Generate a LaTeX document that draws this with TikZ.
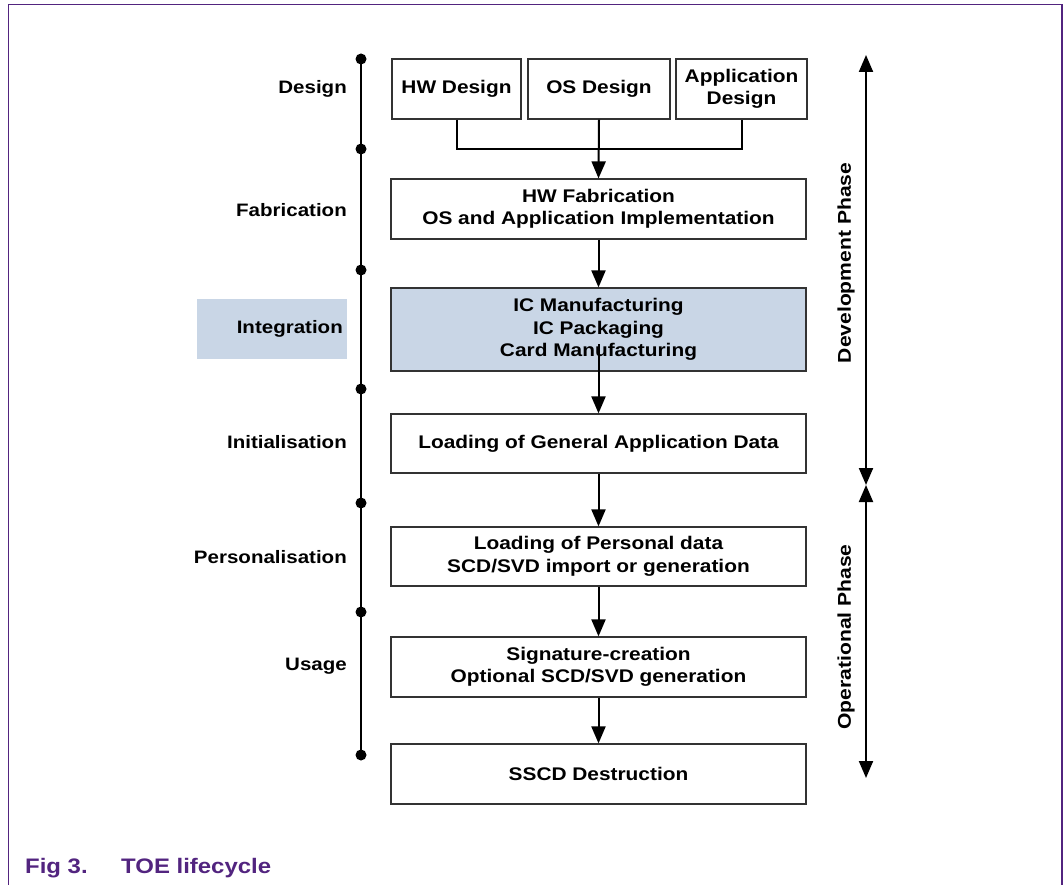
\documentclass[tikz,border=0pt]{standalone}
\usepackage{fontspec}
\setmainfont{Liberation Sans}[FakeStretch=1.14]
\usetikzlibrary{arrows.meta}
\definecolor{framec}{HTML}{52247F}
\definecolor{hl}{HTML}{C9D6E6}
\begin{document}
\begin{tikzpicture}[x=1pt,y=-1pt,
  box/.style={draw=black!80, line width=1.2pt, align=center, inner sep=0pt,
    font=\fontsize{18.3}{22.5}\selectfont\bfseries},
  lbl/.style={anchor=east, inner sep=0pt, font=\fontsize{18}{22}\selectfont\bfseries},
  phase/.style={rotate=90, inner sep=0pt, font=\fontsize{18.5}{22}\selectfont\bfseries},
  arr/.style={line width=2pt, -{Triangle[width=14pt,length=17pt]}},
  dbl/.style={line width=2pt, {Triangle[width=14pt,length=17pt]}-{Triangle[width=14pt,length=17pt]}},
  captext/.style={anchor=base west, inner sep=0pt, text=framec, font=\fontsize{21}{24}\selectfont\bfseries}]
\useasboundingbox (0,0) rectangle (1063,885);
% frame
\draw[framec, line width=1.5pt] (8.5,885) -- (8.5,4.5) -- (1062,4.5) -- (1062,885);
% timeline
\coordinate (d1) at (361,59);
\coordinate (d2) at (361,149);
\coordinate (d3) at (361,270);
\coordinate (d4) at (361,389);
\coordinate (d5) at (361,503);
\coordinate (d6) at (361,612);
\coordinate (d7) at (361,755);
\draw[line width=2.5pt] (d1) -- (d7);
\foreach \d in {d1,d2,d3,d4,d5,d6,d7} \fill (\d) circle (5.5pt);
% stage labels
\node[lbl] (lDesign) at (347,89) {Design};
\node[lbl] (lFab) at (347,210) {Fabrication};
\node[lbl, fill=hl, minimum width=150pt, minimum height=60pt, text width=142pt, align=right, inner xsep=4pt, inner ysep=0pt] (lInt) at (347,329) {Integration};
\node[lbl] (lInit) at (347,442) {Initialisation};
\node[lbl] (lPers) at (347,557) {Personalisation};
\node[lbl] (lUse) at (347,666) {Usage};
% boxes
\node[box, minimum width=129pt, minimum height=60pt] (hw) at (456.5,89) {HW Design};
\node[box, minimum width=142pt, minimum height=60pt] (os) at (599,89) {OS Design};
\node[box, minimum width=131pt, minimum height=60pt] (app) at (741.5,89) {Application\\Design};
\node[box, minimum width=415pt, minimum height=60pt] (fab) at (598.5,209) {HW Fabrication\\OS and Application Implementation};
\node[box, fill=hl, minimum width=415pt, minimum height=83pt] (int) at (598.5,329.5) {IC Manufacturing\\IC Packaging\\Card Manufacturing};
\node[box, minimum width=415pt, minimum height=59pt] (init) at (598.5,443.5) {Loading of General Application Data};
\node[box, minimum width=415pt, minimum height=59pt] (pers) at (598.5,556.5) {Loading of Personal data\\SCD/SVD import or generation};
\node[box, minimum width=415pt, minimum height=60pt] (use) at (598.5,667) {Signature-creation\\Optional SCD/SVD generation};
\node[box, minimum width=415pt, minimum height=60pt] (sscd) at (598.5,774) {SSCD Destruction};
% connectors
\draw[line width=2pt] (hw.south) -- ++(0,29) -| (app.south);
\draw[arr] (os.south) -- (fab.north);
\draw[arr] (fab.south) -- (int.north);
\draw[arr] ([yshift=-15pt]int.center) -- (init.north);
\draw[arr] (init.south) -- (pers.north);
\draw[arr] (pers.south) -- (use.north);
\draw[arr] (use.south) -- (sscd.north);
% phases
\coordinate (p1) at (866,55);
\coordinate (p2) at (866,485);
\coordinate (p3) at (866,778);
\draw[dbl] (p2) -- (p1);
\draw[dbl] (p3) -- (p2);
\node[phase] (dev) at (846,263) {Development Phase};
\node[phase] (op) at (846,637) {Operational Phase};
% caption
\node[captext] (fig) at (25,873) {Fig 3.};
\node[captext] (title) at (121,873) {TOE lifecycle};
\end{tikzpicture}
\end{document}
